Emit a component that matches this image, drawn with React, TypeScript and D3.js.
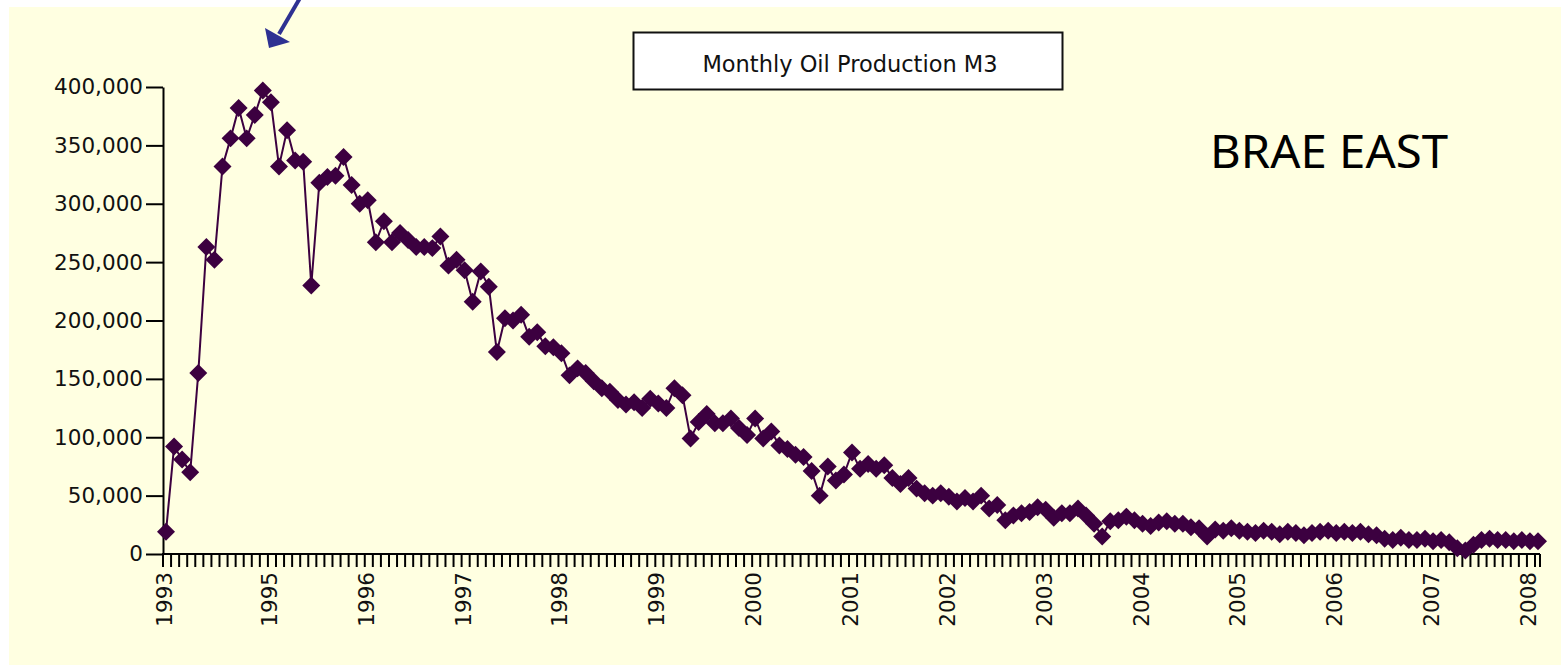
import { useEffect, useRef } from "react";
import * as d3 from "d3";

// Brae East monthly oil production (m3), one value per month from Dec 1993 to Feb 2008
const firstYear = 1993;
const firstMonth = 11; // December, 0-based

const production = [
  19000, 92000, 81000, 70000, 155000, 263000, 252000, 332000, 356000, 382000,
  356000, 376000, 397000, 387000, 332000, 363000, 337000, 336000, 230000, 318000,
  323000, 324000, 340000, 316000, 300000, 303000, 267000, 285000, 267000, 275000,
  269000, 263000, 263000, 262000, 272000, 247000, 252000, 243000, 216000, 242000,
  229000, 173000, 202000, 200000, 205000, 186000, 190000, 178000, 177000, 172000,
  153000, 159000, 155000, 148000, 142000, 139000, 132000, 128000, 130000, 125000,
  133000, 129000, 125000, 142000, 136000, 99000, 113000, 120000, 112000, 112000,
  116000, 108000, 102000, 116000, 99000, 105000, 93000, 90000, 85000, 83000,
  71000, 50000, 75000, 63000, 68000, 87000, 73000, 77000, 73000, 76000,
  65000, 60000, 65000, 56000, 52000, 50000, 52000, 49000, 45000, 48000,
  45000, 50000, 39000, 42000, 29000, 33000, 35000, 36000, 40000, 38000,
  31000, 35000, 35000, 39000, 33000, 26000, 15000, 28000, 29000, 32000,
  29000, 26000, 24000, 27000, 28000, 26000, 26000, 23000, 22000, 15000,
  21000, 20000, 22000, 20000, 19000, 18000, 20000, 19000, 17000, 19000,
  18000, 16000, 18000, 19000, 20000, 18000, 19000, 18000, 19000, 17000,
  16000, 13000, 12000, 14000, 12000, 12000, 13000, 11000, 12000, 10000,
  5000, 3000, 8000, 12000, 13000, 12000, 12000, 11000, 12000, 11000,
  11000,
];

const yearLabels = ["1993", "1995", "1996", "1997", "1998", "1999", "2000", "2001",
  "2002", "2003", "2004", "2005", "2006", "2007", "2008"];

const yTicks = [0, 50000, 100000, 150000, 200000, 250000, 300000, 350000, 400000];

const seriesName = "Monthly Oil Production M3";
const fieldName = "BRAE EAST";

export default function App() {
  const svgRef = useRef<SVGSVGElement>(null);

  useEffect(() => {
    if (!svgRef.current) return;
    const svg = d3.select(svgRef.current);
    svg.selectAll("*").remove();

    const W = 1561, H = 665;
    const font = "'DejaVu Sans', Verdana, sans-serif";
    const ink = "#3c0040";

    // backgrounds
    svg.append("rect").attr("width", W).attr("height", H).attr("fill", "#ffffff");
    svg.append("rect").attr("x", 9).attr("y", 7).attr("width", W - 9).attr("height", H - 7).attr("fill", "#ffffe1");

    const x = d3.scaleLinear().domain([0, production.length - 1]).range([166, 1538]);
    const y = d3.scaleLinear().domain([0, 400000]).range([554, 87]);

    // month of each value, used to place year labels
    const months = production.map((_, i) => new Date(firstYear, firstMonth + i, 1));
    const labelIndex = (label: string) =>
      label === String(firstYear) ? 0 : months.findIndex((m) => m.getFullYear() === +label);

    // y axis
    const gy = svg.append("g").attr("transform", "translate(163,0)")
      .call(d3.axisLeft(y).tickValues(yTicks).tickSize(17).tickSizeOuter(0).tickPadding(3).tickFormat(d3.format(",")));
    gy.select(".domain").attr("stroke", "#000").attr("stroke-width", 2);
    gy.selectAll(".tick line").attr("stroke", "#000").attr("stroke-width", 2);
    gy.selectAll(".tick text").attr("font-family", font).attr("font-size", 21.5).attr("fill", "#111");

    // x axis with a tick per month
    const gx = svg.append("g");
    gx.append("line").attr("x1", 162).attr("x2", 1540).attr("y1", 554).attr("y2", 554)
      .attr("stroke", "#000").attr("stroke-width", 2);
    gx.selectAll("line.mtick").data(production).join("line").attr("class", "mtick")
      .attr("x1", (_, i) => x(i) - 3).attr("x2", (_, i) => x(i) - 3)
      .attr("y1", 554).attr("y2", 567)
      .attr("stroke", "#000").attr("stroke-width", 2);
    gx.append("line").attr("x1", 1540).attr("x2", 1540).attr("y1", 554).attr("y2", 567)
      .attr("stroke", "#000").attr("stroke-width", 2);
    gx.selectAll("text").data(yearLabels).join("text")
      .attr("transform", (d) => `translate(${x(labelIndex(d)) - 1.5},572) rotate(-90)`)
      .attr("text-anchor", "end").attr("dominant-baseline", "central")
      .attr("font-family", font).attr("font-size", 21.5).attr("fill", "#111")
      .text((d) => d);

    // series line and diamond markers
    const line = d3.line<number>().x((_, i) => x(i)).y((d) => y(d));
    svg.append("path").datum(production).attr("d", line)
      .attr("fill", "none").attr("stroke", ink).attr("stroke-width", 2);
    const diamond = d3.symbol(d3.symbolDiamond2, 206)();
    svg.append("g").selectAll("path").data(production).join("path")
      .attr("d", diamond)
      .attr("transform", (d, i) => `translate(${x(i)},${y(d)})`)
      .attr("fill", ink);

    // legend box
    svg.append("rect").attr("x", 633.5).attr("y", 32.5).attr("width", 429).attr("height", 57)
      .attr("fill", "#ffffff").attr("stroke", "#111").attr("stroke-width", 2);
    svg.append("text").attr("x", 850).attr("y", 64)
      .attr("text-anchor", "middle").attr("dominant-baseline", "central")
      .attr("font-family", font).attr("font-size", 22.5).attr("fill", "#111")
      .text(seriesName);

    // field name
    svg.append("text").attr("x", 1210).attr("y", 168)
      .attr("textLength", 238).attr("lengthAdjust", "spacingAndGlyphs")
      .attr("font-family", "'Noto Sans', sans-serif").attr("font-size", 45).attr("fill", "#000")
      .text(fieldName);

    // arrow pointing at the peak
    svg.append("line").attr("x1", 300).attr("y1", -2).attr("x2", 279).attr("y2", 34)
      .attr("stroke", "#2e3192").attr("stroke-width", 4);
    svg.append("path").attr("d", "M269,48 L265,28 L290,42 Z").attr("fill", "#2e3192");
  }, []);

  return (
    <div style={{ position: "absolute", left: 0, top: 0 }}>
      <svg ref={svgRef} width={1561} height={665} style={{ display: "block" }}></svg>
    </div>
  );
}
